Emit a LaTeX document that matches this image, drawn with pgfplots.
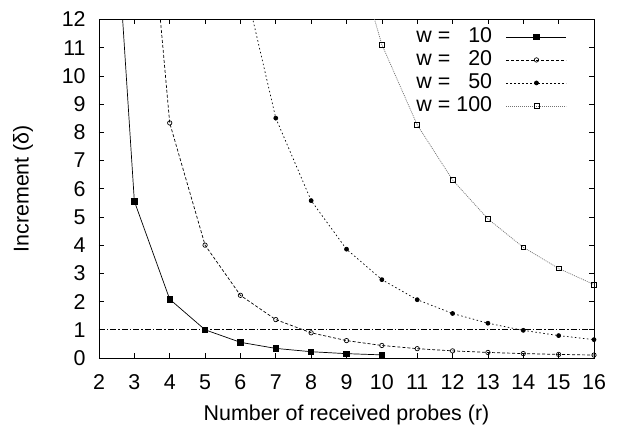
\documentclass[border=0pt]{standalone}
\usepackage{pgfplots}
\pgfplotsset{compat=1.18}
\usepackage{fontspec}
\setmainfont{Liberation Sans}
\begin{document}
\fontsize{21.5}{26}\selectfont
\begin{tikzpicture}
\begin{axis}[
  scale only axis, width=495bp, height=338.5bp,
  xmin=2, xmax=16, ymin=0, ymax=12,
  xtick={2,...,16}, ytick={0,...,12},
  tick align=inside, major tick length=5bp,
  axis line style={line width=0.8bp},
  every tick/.style={black, line width=0.6bp},
  /pgf/number format/assume math mode=true,
  ticklabel style={font=\fontsize{21.5}{26}\selectfont},
  xticklabel style={yshift=-9bp},
  yticklabel style={xshift=-6bp},
  xlabel={Number of received probes (r)},
  ylabel={Increment (δ)},
  xlabel style={at={(axis description cs:0.5,-0.1832)}, anchor=base, font=\fontsize{21.5}{26}\selectfont},
  ylabel style={at={(axis description cs:-0.1535,0.5)}, anchor=center, font=\fontsize{21.5}{26}\selectfont},
  legend plot pos=right,
  legend cell align=right,
  legend style={at={(axis description cs:0.9515,0.983)}, anchor=north east, draw=none, fill=none,
    font=\fontsize{21.5}{26}\selectfont, row sep=4bp, column sep=13bp,
    nodes={inner sep=1bp, text height=14bp, text depth=3bp}},
  legend image code/.code={\draw[#1, mark repeat=2, mark phase=2] plot coordinates {(0bp,0bp) (30bp,0bp) (60bp,0bp)};},
]
\addplot[black, line width=0.7bp, mark=square*, mark size=2.7bp, mark options={solid}] coordinates {
 (2,25) (3,5.556) (4,2.083) (5,1.0) (6,0.556) (7,0.340) (8,0.223) (9,0.154) (10,0.111)};
\addlegendentry{w = \phantom{0}10}
\addplot[black, line width=0.7bp, dash pattern=on 3bp off 2bp, mark=o, mark size=2.2bp, mark options={solid, fill=white}] coordinates {
 (3,22.22) (4,8.333) (5,4.0) (6,2.222) (7,1.361) (8,0.893) (9,0.617) (10,0.444) (11,0.331) (12,0.2525) (13,0.197) (14,0.157) (15,0.127) (16,0.104)};
\addlegendentry{w = \phantom{0}20}
\addplot[black, line width=0.7bp, dash pattern=on 1.5bp off 2.5bp, mark=*, mark size=2bp, mark options={solid}] coordinates {
 (6,13.89) (7,8.503) (8,5.580) (9,3.858) (10,2.778) (11,2.066) (12,1.578) (13,1.233) (14,0.981) (15,0.794) (16,0.651)};
\addlegendentry{w = \phantom{0}50}
\addplot[black!55, line width=0.7bp, dash pattern=on 1bp off 1bp, mark=square, mark size=2.4bp, mark options={solid, draw=black, fill=white}] coordinates {
 (9,15.43) (10,11.11) (11,8.264) (12,6.313) (13,4.931) (14,3.925) (15,3.175) (16,2.604)};
\addlegendentry{w = 100}
\addplot[black, line width=0.6bp, dash pattern=on 6bp off 2bp on 1.5bp off 2bp, forget plot] coordinates {(2,1) (16,1)};
\end{axis}
\pgfresetboundingbox
\path ([shift={(-99bp,-68bp)}]current axis.south west) rectangle ([shift={(23bp,19.5bp)}]current axis.north east);
\end{tikzpicture}
\end{document}
